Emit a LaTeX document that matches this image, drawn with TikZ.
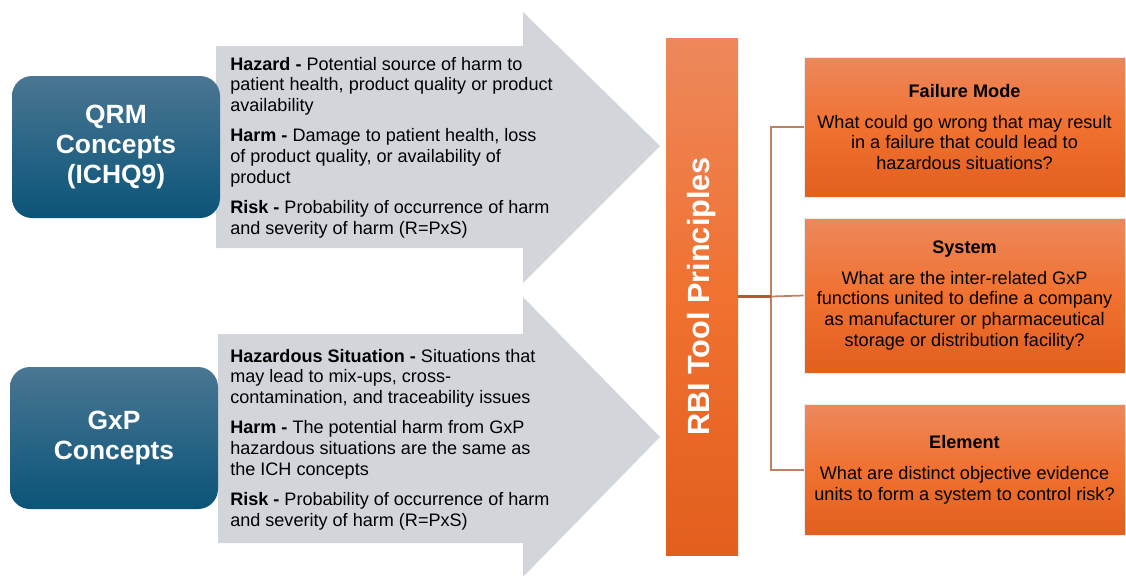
\documentclass[tikz,border=0pt]{standalone}
\usepackage{fontspec}
\setmainfont{Liberation Sans}
\usetikzlibrary{positioning, calc}
\definecolor{qrmTop}{RGB}{74,118,147}
\definecolor{qrmBot}{RGB}{10,84,120}
\definecolor{arrowGray}{RGB}{210,214,219}
\definecolor{rbiTop}{RGB}{237,136,92}
\definecolor{rbiMid}{RGB}{240,113,48}
\definecolor{rbiBot}{RGB}{226,95,30}
\definecolor{linkBrown}{RGB}{192,128,98}
\definecolor{trunkBrown}{RGB}{170,92,52}

\begin{document}
\begin{tikzpicture}[x=0.75pt, y=-0.75pt,
    concept/.style={rounded corners=15pt, top color=qrmTop, bottom color=qrmBot,
      text=white, align=center, inner sep=0pt, minimum width=156pt,
      font=\bfseries\fontsize{19.8}{22.5}\selectfont},
    deftext/.style={anchor=north west, inner sep=0pt, align=left,
      font=\fontsize{13.55}{15.4}\selectfont},
    question/.style={top color=rbiTop, bottom color=rbiBot, middle color=rbiMid,
      draw=white!85!gray, line width=0.6pt, align=center, inner sep=0pt,
      minimum width=240.75pt, font=\fontsize{13.6}{15.6}\selectfont},
    link/.style={linkBrown, line width=1.3pt}]
  \useasboundingbox (0,0) rectangle (1126,575);

  % grey arrows carrying the definitions
  \fill[arrowGray] (216,46) -- (523,46) -- (523,12) -- (660,146) -- (523,283)
    -- (523,248) -- (216,248) -- cycle;
  \fill[arrowGray] (218,334) -- (523,334) -- (523,297) -- (660,437) -- (523,577)
    -- (523,543) -- (218,543) -- cycle;

  \node[deftext] (qrmdef) at (230,57) {%
    \textbf{Hazard -} Potential source of harm to\\
    patient health, product quality or product\\
    availability\\[7.5pt]
    \textbf{Harm -} Damage to patient health, loss\\
    of product quality, or availability of\\
    product\\[7.5pt]
    \textbf{Risk -} Probability of occurrence of harm\\
    and severity of harm (R=PxS)};
  \node[deftext] (gxpdef) at (230,349) {%
    \textbf{Hazardous Situation -} Situations that\\
    may lead to mix-ups, cross-\\
    contamination, and traceability issues\\[7.5pt]
    \textbf{Harm -} The potential harm from GxP\\
    hazardous situations are the same as\\
    the ICH concepts\\[7.5pt]
    \textbf{Risk -} Probability of occurrence of harm\\
    and severity of harm (R=PxS)};

  \node[concept, minimum height=106.5pt] (qrm) at (116,147) {QRM\\ Concepts\\ (ICHQ9)};
  \node[concept, minimum height=106.5pt] (gxp) at (114,438) {GxP\\ Concepts};

  % central bar
  \node[top color=rbiTop, bottom color=rbiBot, middle color=rbiMid,
    minimum width=54pt, minimum height=387.75pt, inner sep=0pt] (rbi) at (702,296.5) {};
  \node[rotate=90, text=white, font=\bfseries\fontsize{23}{26}\selectfont] at (rbi.center)
    {RBI Tool Principles};

  % question boxes
  \node[question, minimum height=105pt] (fm) at (964.5,127)
    {\textbf{Failure Mode}\\[7.5pt]
     What could go wrong that may result\\
     in a failure that could lead to\\
     hazardous situations?};
  \node[question, minimum height=116.25pt] (sys) at (964.5,295.5)
    {\textbf{System}\\[7.5pt]
     What are the inter-related GxP\\
     functions united to define a company\\
     as manufacturer or pharmaceutical\\
     storage or distribution facility?};
  \node[question, minimum height=98.25pt] (elem) at (964.5,470)
    {\textbf{Element}\\[7.5pt]
     What are distinct objective evidence\\
     units to form a system to control risk?};

  % tree connectors
  \coordinate (trunk) at (771,296.5);
  \draw[link] (fm.west) -| (trunk) |- (elem.west);
  \draw[link] (trunk) -- (sys.west);
  \draw[trunkBrown, line width=1.6pt] (rbi.east) -- (trunk);
\end{tikzpicture}
\end{document}
